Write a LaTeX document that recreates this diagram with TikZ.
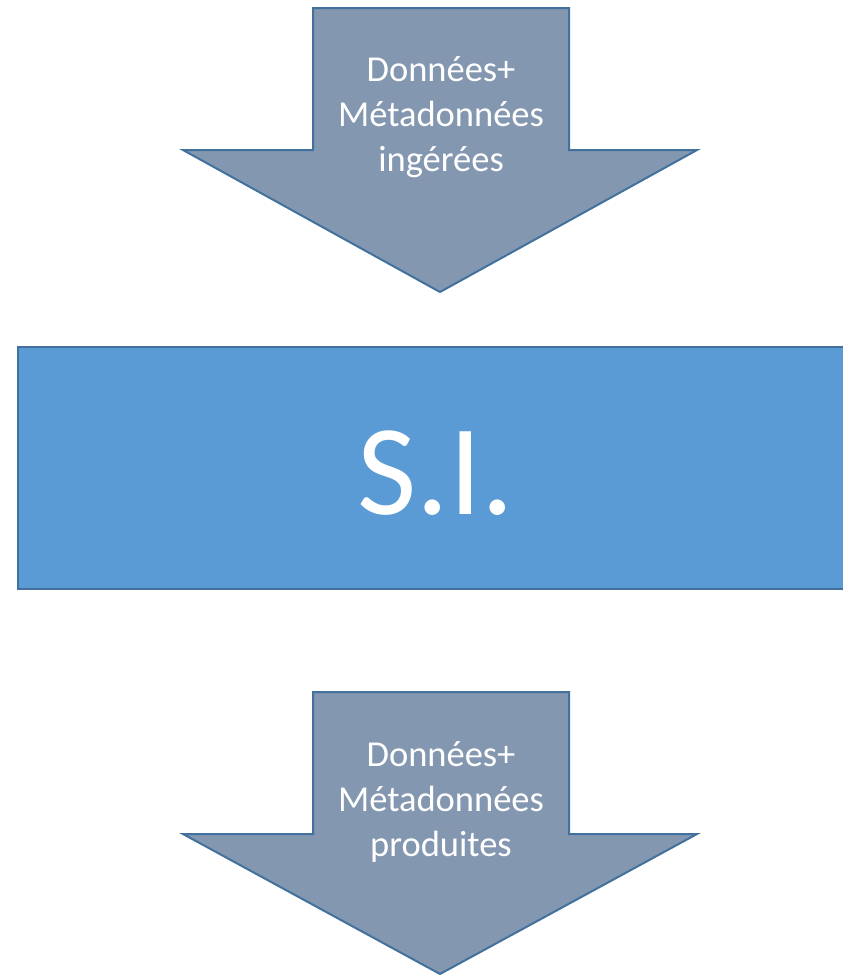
\documentclass[tikz,border=0pt]{standalone}
\usepackage{fontspec}
\setmainfont{Carlito}
\definecolor{arrowfill}{HTML}{8497B0}
\definecolor{edgeblue}{HTML}{41719C}
\definecolor{boxfill}{HTML}{5B9BD5}
\begin{document}
\begin{tikzpicture}[x=1pt,y=-1pt,
  flowarrow/.style={fill=arrowfill,draw=edgeblue,line width=2pt,line join=miter},
  arrowlabel/.style={text=white,align=center,font=\fontsize{36.5}{45}\selectfont,inner sep=0pt},
  sysbox/.style={fill=boxfill,draw=edgeblue,line width=2pt}]
\useasboundingbox (0,0) rectangle (843,975);
% incoming data arrow
\draw[flowarrow] (313,8) -- (569,8) -- (569,150) -- (697,150) -- (440,292)
  -- (183,150) -- (313,150) -- cycle;
\node[arrowlabel] (inLabel) at (441,117) {Données+\\Métadonnées\\ingérées};
% information system block
\begin{scope}
\clip (0,0) rectangle (843,975);
\draw[sysbox] (18,347) rectangle (860,589);
\end{scope}
\node[text=white,font=\fontsize{129}{140}\selectfont,inner sep=0pt,anchor=base] (si) at (436,514) {S.I.};
% outgoing data arrow
\draw[flowarrow] (313,692) -- (569,692) -- (569,834) -- (697,834) -- (440,974)
  -- (183,834) -- (313,834) -- cycle;
\node[arrowlabel] (outLabel) at (441,802) {Données+\\Métadonnées\\produites};
\end{tikzpicture}
\end{document}
